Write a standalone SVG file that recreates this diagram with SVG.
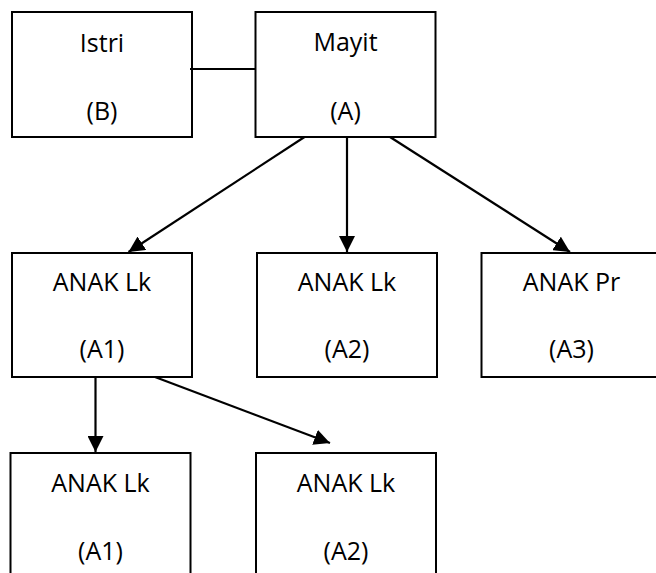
<svg xmlns="http://www.w3.org/2000/svg" width="656" height="573" viewBox="0 0 656 573">
  <defs>
    <style>
      .box { fill: #ffffff; stroke: #000000; stroke-width: 2; }
      .lbl { font-family: "Open Sans", "Liberation Sans", sans-serif; font-size: 25px; fill: #000000; text-anchor: middle; }
      .con { stroke: #000000; stroke-width: 2.2; fill: none; }
    </style>
    <marker id="arr" markerUnits="userSpaceOnUse" markerWidth="17" markerHeight="16" refX="16" refY="8" orient="auto">
      <path d="M0,0 L16,8 L0,16 Z" fill="#000000"/>
    </marker>
  </defs>
  <rect width="656" height="573" fill="#ffffff"/>

  <g id="istri">
    <rect class="box" x="12" y="12" width="180" height="125"/>
    <text class="lbl" x="102" y="52">Istri</text>
    <text class="lbl" x="102" y="120">(B)</text>
  </g>
  <g id="mayit">
    <rect class="box" x="255.5" y="12" width="180" height="125"/>
    <text class="lbl" x="345.5" y="51">Mayit</text>
    <text class="lbl" x="345.5" y="120">(A)</text>
  </g>
  <g id="anak-a1">
    <rect class="box" x="12" y="253" width="180" height="124"/>
    <text class="lbl" x="102" y="291">ANAK Lk</text>
    <text class="lbl" x="102" y="358">(A1)</text>
  </g>
  <g id="anak-a2">
    <rect class="box" x="257" y="253" width="180" height="124"/>
    <text class="lbl" x="347" y="291">ANAK Lk</text>
    <text class="lbl" x="347" y="358">(A2)</text>
  </g>
  <g id="anak-a3">
    <rect class="box" x="481.5" y="253" width="180" height="124"/>
    <text class="lbl" x="571.5" y="291">ANAK Pr</text>
    <text class="lbl" x="571.5" y="358">(A3)</text>
  </g>
  <g id="cucu-a1">
    <rect class="box" x="10.5" y="453" width="180" height="130"/>
    <text class="lbl" x="100.5" y="492">ANAK Lk</text>
    <text class="lbl" x="100.5" y="560">(A1)</text>
  </g>
  <g id="cucu-a2">
    <rect class="box" x="256" y="453" width="180" height="130"/>
    <text class="lbl" x="346" y="492">ANAK Lk</text>
    <text class="lbl" x="346" y="560">(A2)</text>
  </g>

  <g id="connectors">
    <line class="con" x1="190" y1="69" x2="256" y2="69"/>
    <line class="con" x1="304.5" y1="137" x2="128.5" y2="252" marker-end="url(#arr)"/>
    <line class="con" x1="347" y1="137" x2="347" y2="252" marker-end="url(#arr)"/>
    <line class="con" x1="390" y1="137" x2="570" y2="252" marker-end="url(#arr)"/>
    <line class="con" x1="95.5" y1="377" x2="95.5" y2="452" marker-end="url(#arr)"/>
    <line class="con" x1="155" y1="377" x2="330" y2="443" marker-end="url(#arr)"/>
  </g>
</svg>
